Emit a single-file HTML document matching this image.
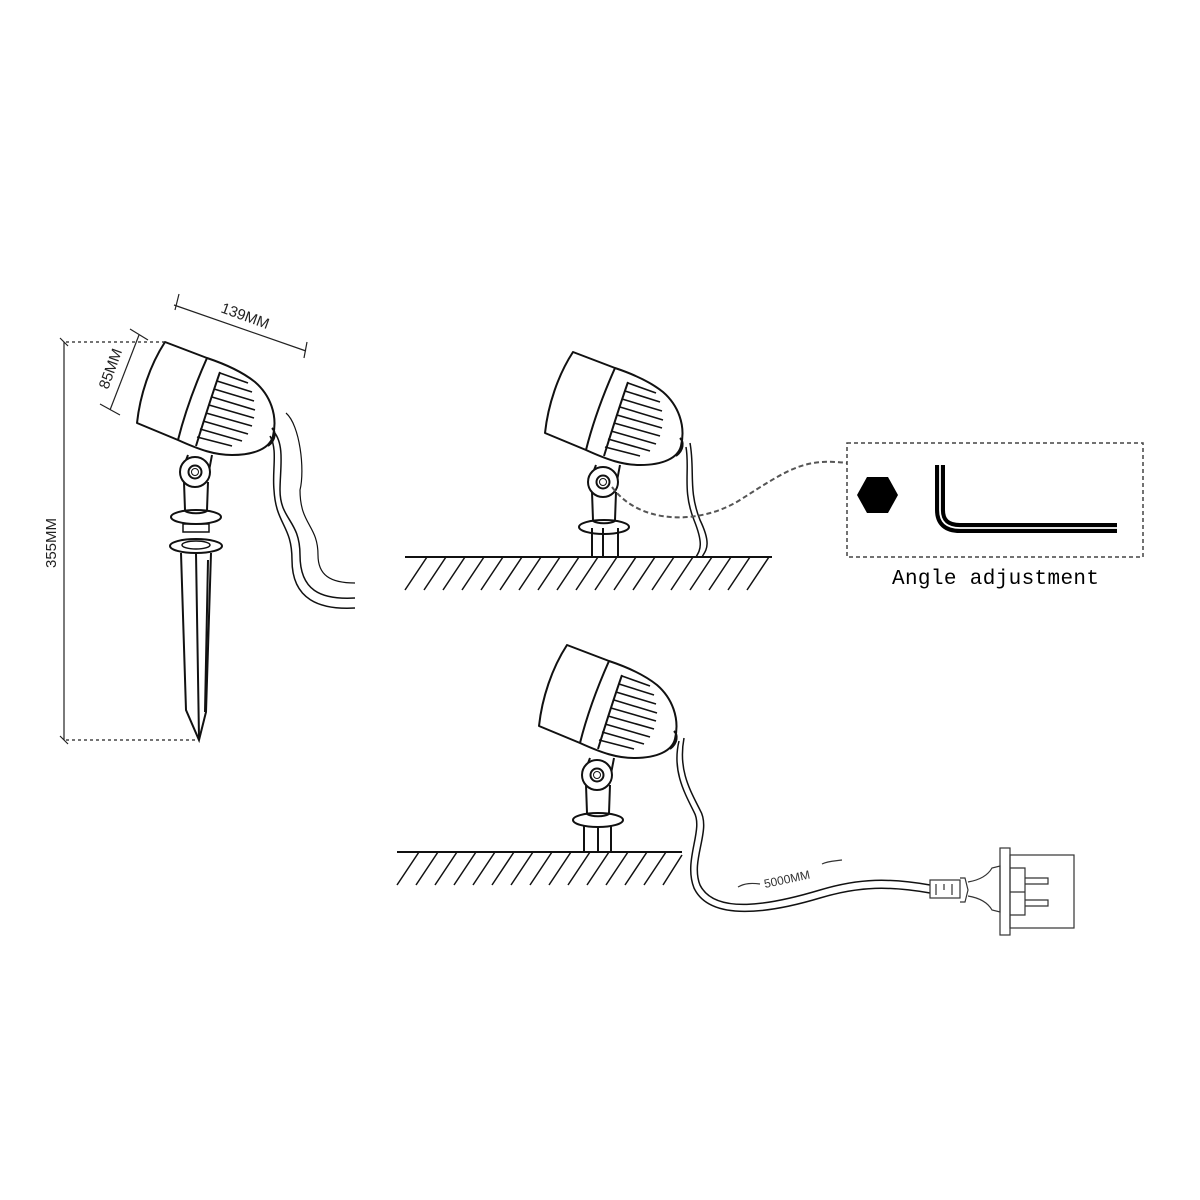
<!DOCTYPE html>
<html><head><style>html,body{margin:0;background:#fff}svg{display:block}</style></head><body>
<svg width="1200" height="1200" viewBox="0 0 1200 1200" xmlns="http://www.w3.org/2000/svg">
<defs>
<g id="head" fill="none" stroke="#111" stroke-width="2" stroke-linejoin="round">
  <path d="M165,342 C150,365 140,395 137,423 L178,440 C200,450 215,455 232,455 C255,455 270,448 273,436 C278,415 270,395 255,382 C240,370 222,363 207,358 Z" fill="#fff"/>
  <path d="M207,358 C195,385 185,412 178,440"/>
  <path d="M272,428 C276,432 276,440 268,446"/>
  <g stroke-width="1.6">
    <path d="M220,373 L248,383"/><path d="M217,381 L252,392"/><path d="M214,389 L254,401"/>
    <path d="M212,397 L255,410"/><path d="M209,405 L254,418"/><path d="M206,413 L252,426"/>
    <path d="M203,421 L248,434"/><path d="M200,429 L242,441"/><path d="M197,437 L232,446"/>
  </g>
  <path d="M220,372 C212,395 204,420 196,446"/>
  <path d="M188,455 L183,468 M212,455 L208,476"/>
  <circle cx="195" cy="472" r="15" fill="#fff"/>
  <circle cx="195" cy="472" r="6.5"/>
  <circle cx="195" cy="472" r="3.5" stroke-width="1"/>
  <path d="M184,482 L185,510 M208,482 L207,510"/>
  <ellipse cx="196" cy="517" rx="25" ry="7" fill="#fff"/>
  <path d="M185,511 C190,514 202,514 207,511"/>
</g>
<g id="cord2" fill="none" stroke="#111" stroke-width="1.5"></g>
</defs>

<!-- LEFT LAMP -->
<use href="#head"/>
<g fill="none" stroke="#111" stroke-width="2">
  <rect x="183" y="524" width="26" height="8" stroke-width="1.5"/>
  <ellipse cx="196" cy="546" rx="26" ry="7"/>
  <ellipse cx="196" cy="545" rx="14" ry="4" stroke-width="1.5"/>
  <path d="M181,553 L186,710 L199,740 L206,712 L211,553"/>
  <path d="M196,553 L199,738 M208,560 L205,712"/>
  <path d="M274,432 C285,445 280,470 280,490 C280,520 300,520 300,555 C300,590 320,600 355,598" stroke-width="1.5"/>
  <path d="M270,436 C278,450 272,470 274,490 C276,525 292,525 292,560 C292,600 320,610 355,608" stroke-width="1.5"/>
  <path d="M286,413 C300,425 305,470 300,490 C300,525 318,525 318,555 C318,575 330,583 355,583" stroke-width="1.2"/>
</g>
<!-- dimensions -->
<g stroke="#222" stroke-width="1.2" fill="none">
  <path d="M64,342 L64,740"/>
  <path d="M66,342 L165,342 M66,740 L198,740" stroke-dasharray="3,3"/>
  <path d="M60,338 L68,346 M60,736 L68,744"/>
  <path d="M174,305 L306,351"/>
  <path d="M179,294 L175,310 M307,342 L304,358"/>
  <path d="M139,335 L110,410"/>
  <path d="M130,329 L148,340 M100,404 L120,415"/>
</g>
<g font-family="Liberation Sans, sans-serif" font-size="15" fill="#222">
  <text transform="translate(56,568) rotate(-90)">355MM</text>
  <text transform="translate(220,312) rotate(20)">139MM</text>
  <text transform="translate(108,390) rotate(-70)">85MM</text>
</g>

<!-- MIDDLE LAMP -->
<g transform="translate(408,10)"><use href="#head"/></g>
<g fill="none" stroke="#111" stroke-width="2">
  <path d="M592,528 L592,557 M603,528 L603,557 M618,528 L618,557"/>
  <path d="M690,443 C695,470 688,490 700,520 C712,545 706,550 702,557 M686,447 C690,470 682,490 694,520 C704,545 700,550 696,557" stroke-width="1.5"/>
  <path d="M405,557 L772,557"/>
</g>
<g stroke="#111" stroke-width="1.5">
  <path d="M427,557 L405,590 M446,557 L424,590 M465,557 L443,590 M484,557 L462,590 M503,557 L481,590 M522,557 L500,590 M541,557 L519,590 M560,557 L538,590 M579,557 L557,590 M598,557 L576,590 M617,557 L595,590 M636,557 L614,590 M655,557 L633,590 M674,557 L652,590 M693,557 L671,590 M712,557 L690,590 M731,557 L709,590 M750,557 L728,590 M769,557 L747,590"/>
</g>
<path d="M612,487 C640,525 700,525 740,500 C790,468 805,458 847,463" fill="none" stroke="#555" stroke-width="2" stroke-dasharray="5,3"/>
<rect x="847" y="443" width="296" height="114" fill="none" stroke="#444" stroke-width="1.5" stroke-dasharray="4,3"/>
<polygon points="857,495 867,477 888,477 898,495 888,513 867,513" fill="#000"/>
<path d="M940,465 L940,510 Q940,528 960,528 L1117,528" fill="none" stroke="#000" stroke-width="10"/>
<path d="M940,465 L940,510 Q940,528 960,528 L1117,528" fill="none" stroke="#fff" stroke-width="1.8"/>
<text x="892" y="584" font-family="Liberation Mono, monospace" font-size="21" textLength="207" fill="#000">Angle adjustment</text>

<!-- BOTTOM LAMP -->
<g transform="translate(402,303)"><use href="#head"/></g>
<g fill="none" stroke="#111" stroke-width="2">
  <path d="M584,826 L584,852 M598,826 L598,852 M611,826 L611,852"/>
  <path d="M397,852 L682,852"/>
  <path d="M684,738 C678,770 690,790 700,810 C712,830 690,860 700,885 C715,915 770,905 820,890 C860,878 890,878 930,885" stroke-width="1.5"/>
  <path d="M679,741 C672,770 684,792 694,812 C704,830 683,860 694,888 C710,922 770,913 820,898 C860,886 890,886 930,893" stroke-width="1.5"/>
</g>
<g stroke="#111" stroke-width="1.5">
  <path d="M419,852 L397,885 M438,852 L416,885 M457,852 L435,885 M476,852 L454,885 M495,852 L473,885 M514,852 L492,885 M533,852 L511,885 M552,852 L530,885 M571,852 L549,885 M590,852 L568,885 M609,852 L587,885 M628,852 L606,885 M647,852 L625,885 M666,852 L644,885 M682,855 L663,885"/>
</g>
<g fill="none" stroke="#333" stroke-width="1.2">
  <path d="M738,887 C745,883 752,883 760,884 M822,864 C828,861 835,861 842,860"/>
  <rect x="930" y="880" width="30" height="18"/>
  <path d="M936,884 L936,895 M944,884 L944,890 M952,884 L952,895"/>
  <path d="M960,878 L965,878 L968,890 L965,902 L960,902"/>
  <path d="M968,882 C980,880 988,875 992,868 L1000,866 L1000,912 L992,910 C988,903 980,898 968,896"/>
  <rect x="1000" y="848" width="10" height="87"/>
  <rect x="1010" y="855" width="64" height="73"/>
  <path d="M1010,868 L1025,868 L1025,915 L1010,915 M1010,892 L1025,892"/>
  <path d="M1025,878 L1048,878 L1048,884 L1025,884 M1025,900 L1048,900 L1048,906 L1025,906"/>
</g>
<text transform="translate(765,888) rotate(-12)" font-family="Liberation Sans, sans-serif" font-size="12" fill="#333">5000MM</text>
</svg>
</body></html>
